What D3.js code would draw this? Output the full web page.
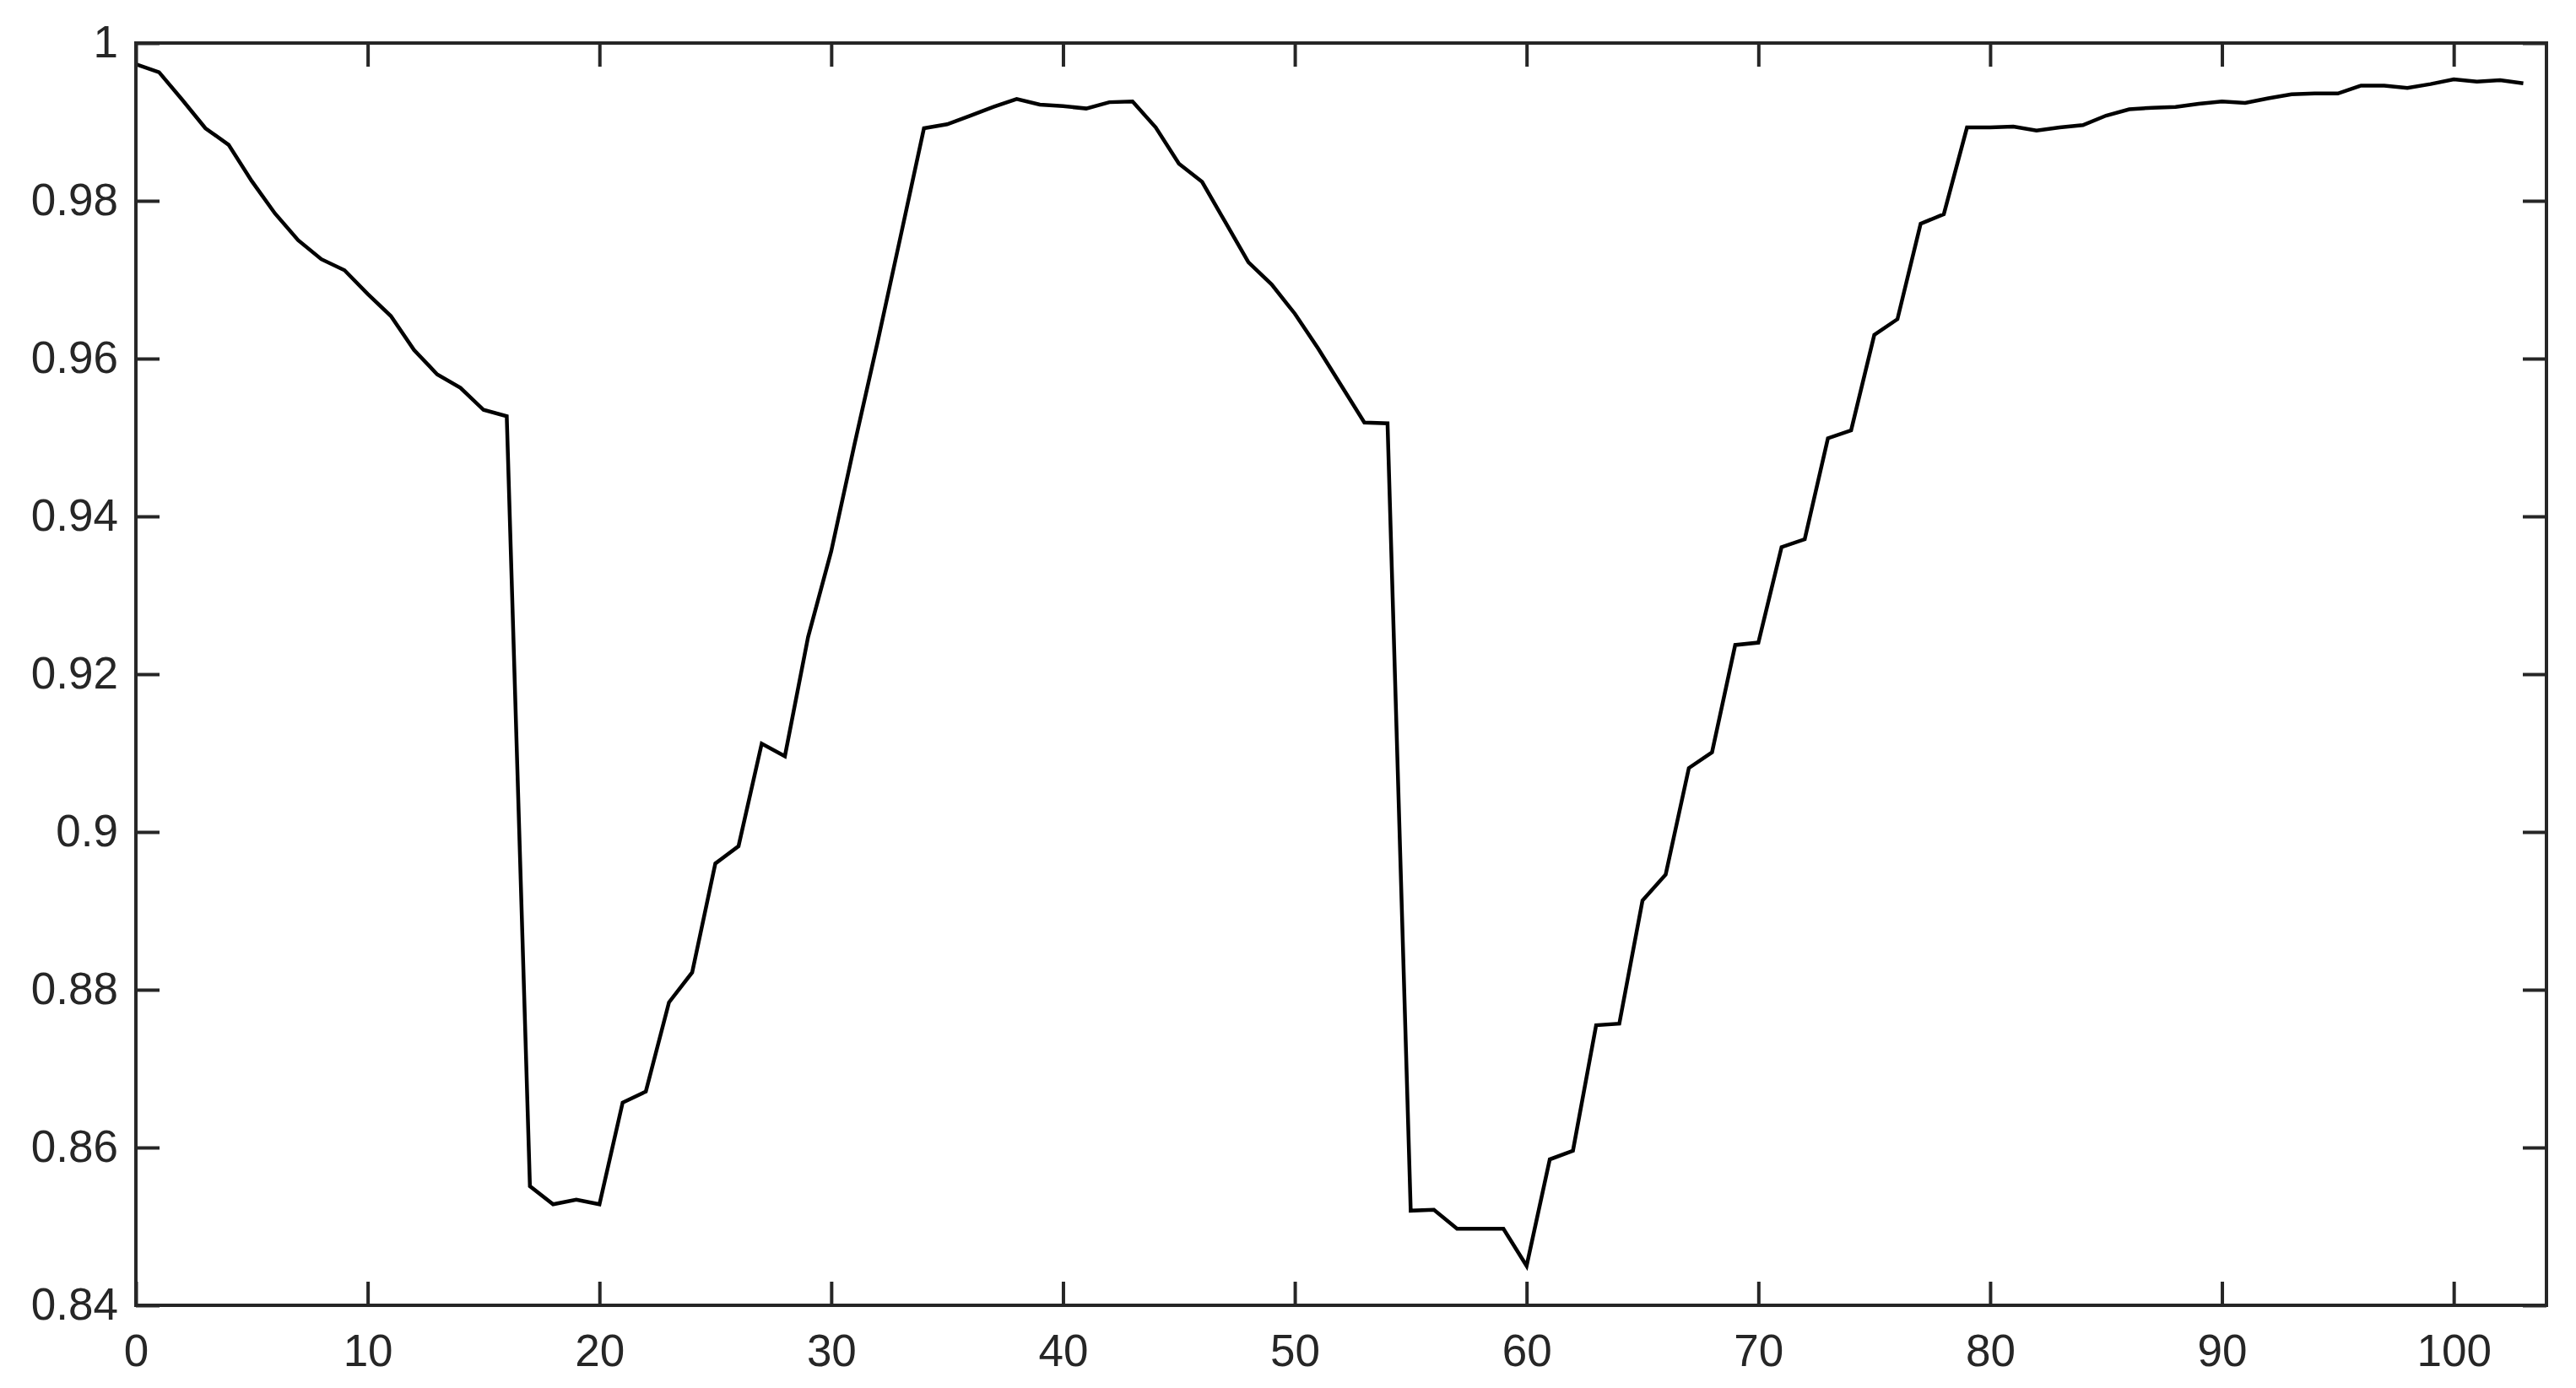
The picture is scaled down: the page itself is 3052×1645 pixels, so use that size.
<!DOCTYPE html>
<html>
<head>
<meta charset="utf-8">
<script src="https://cdn.jsdelivr.net/npm/d3@7"></script>
<style>
  html, body { margin: 0; padding: 0; background: #fff; }
  svg { display: block; }
</style>
</head>
<body>
<div id="chart"></div>
<script>
const WIDTH = 3052;
const HEIGHT = 1645;

// x is just the sample index 0..103
const xValues = d3.range(0, 104);
const yValues = [
  0.9973, 0.9963, 0.9928, 0.9892, 0.9871, 0.9825, 0.9784, 0.9750, 0.9726, 0.9712,
  0.9682, 0.9654, 0.9611, 0.9580, 0.9563, 0.9535, 0.9527, 0.8551, 0.8528, 0.8534,
  0.8528, 0.8657, 0.8671, 0.8784, 0.8822, 0.8960, 0.8982, 0.9112, 0.9096, 0.9247,
  0.9356, 0.9491, 0.9621, 0.9756, 0.9892, 0.9897, 0.9908, 0.9919, 0.9929, 0.9922,
  0.9920, 0.9917, 0.9925, 0.9926, 0.9893, 0.9847, 0.9824, 0.9773, 0.9722, 0.9694,
  0.9657, 0.9613, 0.9566, 0.9519, 0.9518, 0.8520, 0.8521, 0.8497, 0.8497, 0.8497,
  0.8450, 0.8585, 0.8596, 0.8755, 0.8757, 0.8913, 0.8946, 0.9081, 0.9101, 0.9237,
  0.9240, 0.9361, 0.9371, 0.9499, 0.9509, 0.9630, 0.9650, 0.9771, 0.9783, 0.9893,
  0.9893, 0.9894, 0.9889, 0.9893, 0.9896, 0.9908, 0.9916, 0.9918, 0.9919, 0.9923,
  0.9926, 0.9924, 0.9930, 0.9935, 0.9936, 0.9936, 0.9946, 0.9946, 0.9943, 0.9948,
  0.9954, 0.9951, 0.9953, 0.9949
];
const xTicks = [0, 10, 20, 30, 40, 50, 60, 70, 80, 90, 100];
const yTicks = [0.84, 0.86, 0.88, 0.9, 0.92, 0.94, 0.96, 0.98, 1];
const xDomain = [0, 104];
const yDomain = [0.84, 1];

let margin = {top: 51, right: 35, bottom: 98, left: 161};
let width = WIDTH - margin.left - margin.right;
let height = HEIGHT - margin.top - margin.bottom;
let axisColor = "#262626";
let tickLen = 28;

let data = xValues.map((x, i) => ({x: x, y: yValues[i]}));

let xScale = d3.scaleLinear().domain(xDomain).range([0, width]);
let yScale = d3.scaleLinear().domain(yDomain).range([height, 0]);
let fmt = d => String(+d.toFixed(2));

let svg = d3.select("#chart").append("svg")
    .attr("width", WIDTH)
    .attr("height", HEIGHT);
let g = svg.append("g")
    .attr("transform", "translate(" + margin.left + "," + margin.top + ")");

// line first, axes on top like matlab
let line = d3.line()
    .x(d => xScale(d.x))
    .y(d => yScale(d.y));
g.append("path")
    .datum(data)
    .attr("fill", "none")
    .attr("stroke", "#000")
    .attr("stroke-width", 4.5)
    .attr("d", line);

function styleAxis(sel) {
  sel.select(".domain").remove();
  sel.selectAll(".tick line").attr("stroke", axisColor).attr("stroke-width", 4);
  sel.selectAll(".tick text")
      .attr("fill", axisColor)
      .style("font-family", "'Liberation Sans', Arial, Helvetica, sans-serif")
      .style("font-size", "53px");
}

g.append("g")
    .attr("transform", "translate(0," + height + ")")
    .call(d3.axisBottom(xScale).tickValues(xTicks).tickFormat(fmt)
      .tickSizeInner(-tickLen).tickSizeOuter(0).tickPadding(34))
    .call(styleAxis);

g.append("g")
    .call(d3.axisTop(xScale).tickValues(xTicks).tickFormat("")
      .tickSizeInner(-tickLen).tickSizeOuter(0))
    .call(styleAxis);

g.append("g")
    .call(d3.axisLeft(yScale).tickValues(yTicks).tickFormat(fmt)
      .tickSizeInner(-tickLen).tickSizeOuter(0).tickPadding(21))
    .call(styleAxis);

g.append("g")
    .attr("transform", "translate(" + width + ",0)")
    .call(d3.axisRight(yScale).tickValues(yTicks).tickFormat("")
      .tickSizeInner(-tickLen).tickSizeOuter(0))
    .call(styleAxis);

// box
g.append("rect")
    .attr("x", 0)
    .attr("y", 0)
    .attr("width", width)
    .attr("height", height)
    .attr("fill", "none")
    .attr("stroke", axisColor)
    .attr("stroke-width", 4);
</script>
</body>
</html>
